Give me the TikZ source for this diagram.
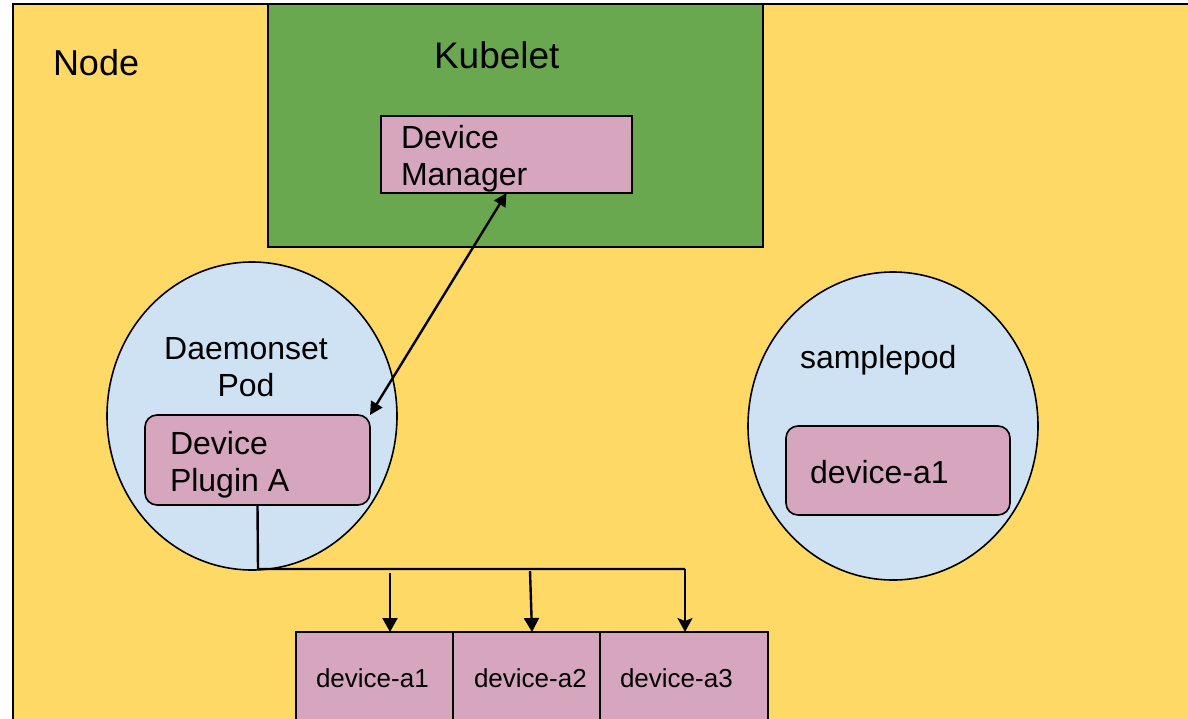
\documentclass[tikz,border=0pt]{standalone}
\usepackage{fontspec}
\setmainfont{Liberation Sans}
\usetikzlibrary{shapes.geometric,arrows.meta,positioning}
\definecolor{nodeyellow}{HTML}{FFD966}
\definecolor{kubegreen}{HTML}{6AA84F}
\definecolor{devpink}{HTML}{D5A6BD}
\definecolor{podblue}{HTML}{CFE2F3}
\tikzset{
  box/.style={draw=black, line width=1.6pt, inner sep=0pt, outer sep=0pt},
  roundbox/.style={box, rounded corners=12pt},
  pod/.style={draw=black, line width=1.6pt, fill=podblue, ellipse, inner sep=0pt, outer sep=0pt},
  lbl/.style={inner sep=0pt, outer sep=0pt, font=\fontsize{32}{37}\selectfont},
  smalllbl/.style={lbl, font=\fontsize{26}{30}\selectfont},
  link/.style={line width=2.4pt},
  feed/.style={link, -{Triangle[length=14pt,width=15pt]}},
  rpc/.style={link, {Triangle[length=13pt,width=13pt]}-{Triangle[length=13pt,width=13pt]}},
}
\begin{document}
\begin{tikzpicture}[x=1pt, y=-1pt]
  \useasboundingbox (0,0) rectangle (1188,718);
  \clip (0,0) rectangle (1188,718);
  \fill[white] (0,0) rectangle (1188,718);

  % host node
  \node[box, fill=nodeyellow, anchor=north west, minimum width=1200pt, minimum height=740pt] (host) at (13,4) {};
  \node[lbl, font=\fontsize{36}{40}\selectfont, anchor=base west] (hostlbl) at (53,75) {Node};

  % kubelet with its device manager
  \node[box, fill=kubegreen, anchor=north west, minimum width=495pt, minimum height=243pt] (kubelet) at (268,4) {};
  \node[lbl, font=\fontsize{37}{40}\selectfont, anchor=base west] (kubeletlbl) at (434,68) {Kubelet};
  \node[box, fill=devpink, anchor=north west, minimum width=251pt, minimum height=77pt] (dm) at (381,116) {};
  \node[lbl, anchor=north west, align=left] (dmlbl) at (401,125) {Device\\Manager};

  % daemonset pod running the plugin
  \node[pod, minimum width=290pt, minimum height=308pt] (ds) at (252,416) {};
  \node[lbl, anchor=north, align=center] (dslbl) at (246,337) {Daemonset\\Pod};
  \node[roundbox, fill=devpink, anchor=north west, minimum width=225pt, minimum height=90pt] (plugin) at (145,415) {};
  \node[lbl, anchor=north west, align=left] (pluginlbl) at (170,431) {Device\\Plugin A};

  % workload pod holding an allocated device
  \node[pod, minimum width=290pt, minimum height=308pt] (sp) at (893,426) {};
  \node[lbl, anchor=base west] (splbl) at (800,368) {samplepod};
  \node[roundbox, fill=devpink, anchor=north west, minimum width=224pt, minimum height=89pt] (spdev) at (786,426) {};
  \node[lbl, anchor=base west] (spdevlbl) at (810,483) {device-a1};

  % devices on the host
  \node[box, fill=devpink, anchor=north west, minimum width=157pt, minimum height=120pt] (d1) at (296,632) {};
  \node[box, fill=devpink, anchor=north west, minimum width=147pt, minimum height=120pt] (d2) at (453,632) {};
  \node[box, fill=devpink, anchor=north west, minimum width=168pt, minimum height=120pt] (d3) at (600,632) {};
  \node[smalllbl, anchor=base west] (d1lbl) at (316,687) {device-a1};
  \node[smalllbl, anchor=base west] (d2lbl) at (474,687) {device-a2};
  \node[smalllbl, anchor=base west] (d3lbl) at (620,687) {device-a3};

  % plugin <-> device manager
  \draw[rpc] (plugin.north east) -- (dm.south);

  % plugin fans out to the devices
  \coordinate (bus) at (258,569);
  \coordinate (busend) at (685,569);
  \coordinate (t1) at (390,573);
  \coordinate (t2) at (530,571);
  \draw[link] (plugin.south) -- (bus) -- (busend);
  \draw[feed] (t1) -- (t1 |- d1.north);
  \draw[feed] (t2) -- ([xshift=2pt]t2 |- d2.north);
  \draw[link, -{Stealth[length=14pt,width=15pt,inset=3pt]}] (busend) -- (busend |- d3.north);
\end{tikzpicture}
\end{document}
